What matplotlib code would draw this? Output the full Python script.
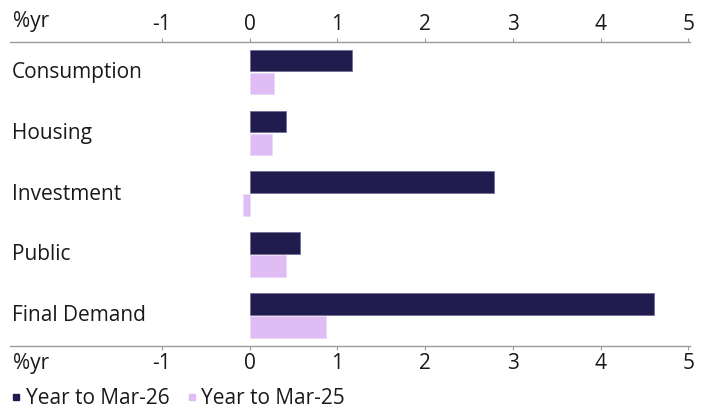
import matplotlib.pyplot as plt
import matplotlib.transforms as mtransforms
from matplotlib.lines import Line2D
import numpy as np

plt.rcParams['font.family'] = ['Open Sans', 'DejaVu Sans']

# DATA
categories = ["Consumption", "Housing", "Investment", "Public", "Final Demand"]
series_names = ["Year to Mar-26", "Year to Mar-25"]
year_mar26 = [1.17, 0.42, 2.79, 0.57, 4.61]
year_mar25 = [0.28, 0.26, -0.08, 0.42, 0.87]
xticks = [-1, 0, 1, 2, 3, 4, 5]

dark = "#201c4e"
light = "#dfbcf3"
axcol = "#9a9a9a"
txtcol = "#1a1a1a"
fs = 15

fig = plt.figure(figsize=(7.04, 4.11), dpi=100)
ax = fig.add_axes([10 / 704, 1 - 346 / 411, 680 / 704, 304 / 411])

y = np.arange(len(categories))
h = 0.355
ax.barh(y - 0.195, year_mar26, height=h, color=dark, edgecolor="#6e6a94", linewidth=0.5)
ax.barh(y + 0.185, year_mar25, height=h, color=light, edgecolor="#ecd8f8", linewidth=0.5)

ax.set_xlim(-2.73, 5.02)
ax.set_ylim(len(categories) - 0.5, -0.5)
ax.set_yticks([])

# x axis top and bottom
ax.set_xticks(xticks)
ax.set_xticklabels([str(t) for t in xticks])
ax.tick_params(axis="x", which="both", top=True, labeltop=True, bottom=True, labelbottom=True,
               direction="out", length=3, width=0.8, color=axcol, labelsize=fs,
               labelcolor=txtcol, pad=2)
for s in ["left", "right"]:
    ax.spines[s].set_visible(False)
for s in ["top", "bottom"]:
    ax.spines[s].set_color(axcol)
    ax.spines[s].set_linewidth(1)

# "%yr" unit labels
ax.text(0.004, 1.068, "%yr", transform=ax.transAxes, fontsize=fs, color=txtcol,
        ha="left", va="center")
ax.text(0.004, -0.058, "%yr", transform=ax.transAxes, fontsize=fs, color=txtcol,
        ha="left", va="center")

# category labels
trans = mtransforms.blended_transform_factory(ax.transAxes, ax.transData)
for i, c in enumerate(categories):
    ax.text(0.003, i + 0.0, c, transform=trans, fontsize=fs, color=txtcol,
            ha="left", va="center")

handles = [Line2D([], [], marker="s", ls="", color=dark, markersize=4),
           Line2D([], [], marker="s", ls="", color=light, markersize=4)]
leg = fig.legend(handles, series_names, loc="lower left", bbox_to_anchor=(0.017, 0.005),
                 ncol=2, frameon=False, fontsize=fs, handlelength=0.4, handletextpad=0.25,
                 columnspacing=0.9, borderpad=0, borderaxespad=0, labelcolor=txtcol)

fig.savefig("out.png", dpi=100)
